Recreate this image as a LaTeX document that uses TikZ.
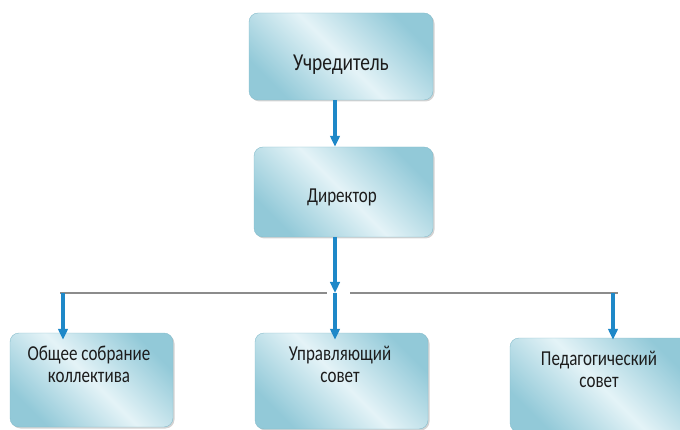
\documentclass[tikz,border=0pt]{standalone}
\usepackage{fontspec}
\setmainfont{Carlito}
\usetikzlibrary{shadows,arrows.meta}
\definecolor{boxdark}{HTML}{92C9D8}
\definecolor{boxlight}{HTML}{E4F3F7}
\definecolor{boxedge}{HTML}{86BDCC}
\definecolor{arrowblue}{HTML}{1E88C8}
\definecolor{linegray}{HTML}{8C8C8C}
\definecolor{inkgray}{HTML}{1C1C1C}
\tikzset{flowarrow/.style={draw=arrowblue, line width=4pt, -{Triangle[length=11pt,width=9.5pt]}}}
\begin{document}
\begin{tikzpicture}[x=1pt,y=-1pt]

        \useasboundingbox (0,0) rectangle (680,430);

        \begin{scope}[every node/.style={draw=boxedge, line width=.4pt, rounded corners=9pt,
            shading=axis, top color=boxdark, bottom color=boxdark, middle color=boxlight,
            shading angle=-45, drop shadow={shadow xshift=1.5pt, shadow yshift=-1.5pt, opacity=.35}}]
          \node[minimum width=184pt, minimum height=87pt] (1) at (341,56.5) {};
          \node[minimum width=179pt, minimum height=90pt] (2) at (343.5,192) {};
          \node[minimum width=163pt, minimum height=94pt] (3) at (91.5,380) {};
          \node[minimum width=173pt, minimum height=96pt] (4) at (341.5,381) {};
          \node[minimum width=180pt, minimum height=94pt] (5) at (600,385) {};
        \end{scope}

        \begin{scope}[every node/.style={inner sep=0pt, align=center, text=inkgray, yscale=1.25,
            font=\fontsize{17pt}{17.6pt}\selectfont}]
          \node[font=\fontsize{19.4pt}{20pt}\selectfont] (1t) at (341,65) {Учредитель};
          \node (2t) at (342,197)   {Директор};
          \node (3t) at (89,364)    {Общее собрание\\коллектива};
          \node (4t) at (340,364.5) {Управляющий\\совет};
          \node (5t) at (599,369.5) {Педагогический\\совет};
        \end{scope}

        \coordinate (c) at (335,293);
        \coordinate (l) at (63,293);
        \coordinate (r) at (613,293);

        \begin{scope}[line width=1.5pt, draw=linegray]
          \draw ([xshift=-3pt]l) -- ([xshift=-8pt]c);
          \draw ([xshift=15pt]c) -- ([xshift=5pt]r);
        \end{scope}

        \draw[flowarrow] (1.south -| c) -- (2.north -| c);
        \draw[flowarrow] (2.south -| c) -- (c);
        \draw[flowarrow, shorten >=-7pt] (c) -- (4.north -| c);
        \draw[flowarrow, shorten >=-7pt] (l) -- (3.north -| l);
        \draw[flowarrow, shorten >=-2pt] (r) -- (5.north -| r);

      \end{tikzpicture}
\end{document}
